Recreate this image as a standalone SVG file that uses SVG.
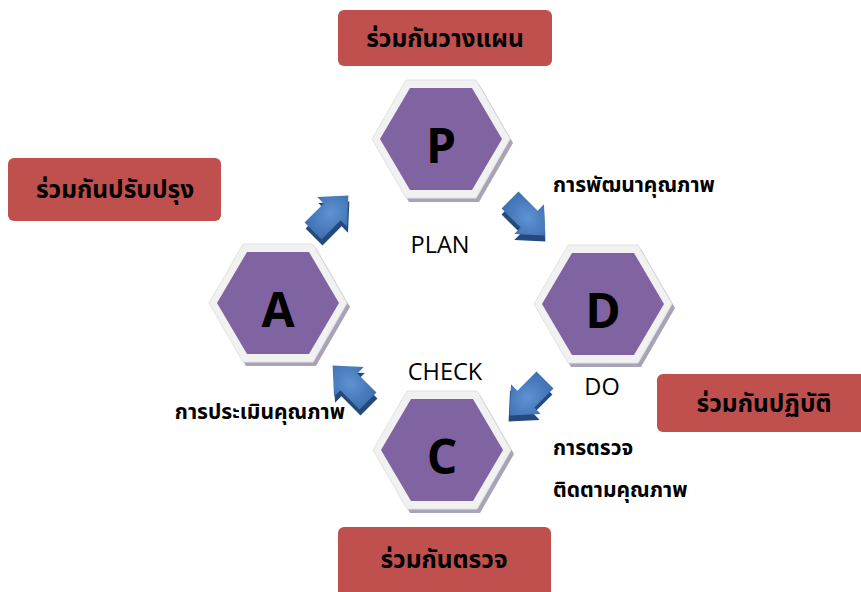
<svg xmlns="http://www.w3.org/2000/svg" xmlns:xlink="http://www.w3.org/1999/xlink" width="861" height="592" viewBox="0 0 861 592">
<style>
.box{fill:#c0504d;}
.boxtxt{font-family:"Noto Sans Thai","Leelawadee UI","Noto Sans",sans-serif;font-size:24.5px;font-weight:bold;fill:#000;text-anchor:middle;}
.lbl{font-family:"Noto Sans Thai","Noto Sans",sans-serif;font-size:21px;font-weight:bold;fill:#000;}
.en{font-family:"Open Sans","Liberation Sans",sans-serif;font-size:23.5px;fill:#000;text-anchor:middle;}
.letter{font-family:"Open Sans","Liberation Sans",sans-serif;font-size:48px;font-weight:bold;fill:#000;text-anchor:middle;}
.hshadow{fill:#a9a3b7;}
.hbevel{fill:#f1f1f1;stroke:#e2e2e2;stroke-width:1;}
.hface{fill:#8064a2;}
.adark{fill:#24497c;}
.aface{fill:url(#ag);}
</style>
<defs>
<radialGradient id="ag" cx="0.5" cy="0.5" r="0.6">
<stop offset="0" stop-color="#5e93d3"/>
<stop offset="1" stop-color="#3c6cae"/>
</radialGradient>
<polygon id="hexOuter" points="-69,0 -35,-59 35,-59 69,0 35,59 -35,59"/>
<polygon id="hexInner" points="-61,0 -31,-51 31,-51 61,0 31,51 -31,51"/>
<polygon id="arrow" points="-24,-12 3,-12 3,-21 26,0 3,21 3,12 -24,12"/>
</defs>

<g id="box-plan"><rect class="box" x="338" y="10" width="214" height="56" rx="6"/><text class="boxtxt" x="445" y="47">ร่วมกันวางแผน</text></g>
<g id="box-improve"><rect class="box" x="8" y="158" width="213" height="63" rx="6"/><text class="boxtxt" x="115" y="198">ร่วมกันปรับปรุง</text></g>
<g id="box-do"><rect class="box" x="657" y="374" width="210" height="58" rx="6"/><text class="boxtxt" x="764" y="412">ร่วมกันปฏิบัติ</text></g>
<g id="box-check"><rect class="box" x="338" y="527" width="213" height="70" rx="6"/><text class="boxtxt" x="444" y="568">ร่วมกันตรวจ</text></g>

<g id="hex-P" transform="translate(441,139)">
<use href="#hexOuter" class="hshadow" transform="translate(3,4)"/>
<use href="#hexOuter" class="hbevel"/>
<use href="#hexInner" class="hface"/>
<text class="letter" x="0" y="24">P</text>
</g>
<g id="hex-D" transform="translate(603,304)">
<use href="#hexOuter" class="hshadow" transform="translate(3,4)"/>
<use href="#hexOuter" class="hbevel"/>
<use href="#hexInner" class="hface"/>
<text class="letter" x="0" y="24">D</text>
</g>
<g id="hex-A" transform="translate(278,303)">
<use href="#hexOuter" class="hshadow" transform="translate(3,4)"/>
<use href="#hexOuter" class="hbevel"/>
<use href="#hexInner" class="hface"/>
<text class="letter" x="0" y="24">A</text>
</g>
<g id="hex-C" transform="translate(442,450)">
<use href="#hexOuter" class="hshadow" transform="translate(3,4)"/>
<use href="#hexOuter" class="hbevel"/>
<use href="#hexInner" class="hface"/>
<text class="letter" x="0" y="24">C</text>
</g>

<g id="connectors">
<g id="arrow-A-P">
<use href="#arrow" class="adark" transform="translate(331,220) rotate(-45)"/>
<use href="#arrow" class="aface" transform="translate(330,214) rotate(-45)"/>
</g>
<g id="arrow-P-D">
<use href="#arrow" class="adark" transform="translate(527,223) rotate(45)"/>
<use href="#arrow" class="aface" transform="translate(527,217) rotate(45)"/>
</g>
<g id="arrow-D-C">
<use href="#arrow" class="adark" transform="translate(527,403) rotate(135)"/>
<use href="#arrow" class="aface" transform="translate(528,397) rotate(135)"/>
</g>
<g id="arrow-C-A">
<use href="#arrow" class="adark" transform="translate(352,390) rotate(-135)"/>
<use href="#arrow" class="aface" transform="translate(351,384) rotate(-135)"/>
</g>
</g>

<g id="labels">
<text class="en" x="440" y="253">PLAN</text>
<text class="en" x="602" y="395">DO</text>
<text class="en" x="445" y="380">CHECK</text>
<text class="lbl" x="553" y="192">การพัฒนาคุณภาพ</text>
<text class="lbl" x="345" y="419" text-anchor="end">การประเมินคุณภาพ</text>
<text class="lbl" x="553" y="455">การตรวจ</text>
<text class="lbl" x="553" y="497">ติดตามคุณภาพ</text>
</g>
</svg>
